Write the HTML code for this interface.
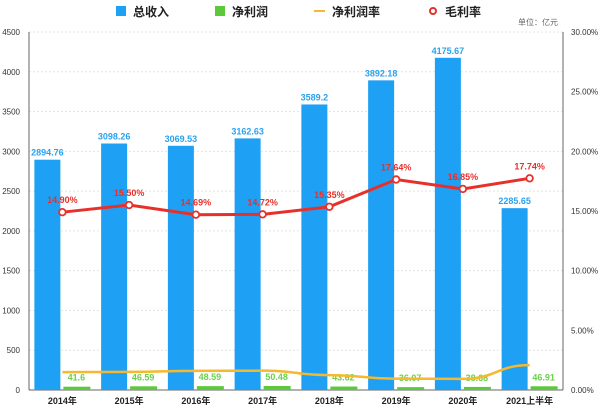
<!DOCTYPE html>
<html><head><meta charset="utf-8"><style>
body{margin:0;background:#fff;width:600px;height:409px;overflow:hidden}
svg{font-family:"Liberation Sans","Noto Sans CJK SC",sans-serif}
</style></head><body>
<svg id="c" width="600" height="409"></svg>
<script>
const categories=["2014年","2015年","2016年","2017年","2018年","2019年","2020年","2021上半年"];
const revenue=[2894.76,3098.26,3069.53,3162.63,3589.2,3892.18,4175.67,2285.65];
const netProfit=[41.6,46.59,48.59,50.48,43.62,36.07,38.68,46.91];
const netRate=[1.50,1.52,1.60,1.62,1.25,0.95,0.93,2.08];
const grossRate=[14.90,15.50,14.69,14.72,15.35,17.64,16.85,17.74];
const leftTicks=[0,500,1000,1500,2000,2500,3000,3500,4000,4500];
const rightTicks=[0,5,10,15,20,25,30];
const NS="http://www.w3.org/2000/svg";
const svg=document.getElementById('c');
const X0=29,X1=563,Y0=390,Y1=32;
const bw=(X1-X0)/categories.length;
const xc=i=>X0+bw*(i+0.5);
const yL=v=>Y0-(v/4500)*(Y0-Y1);
const yR=v=>Y0-(v/30)*(Y0-Y1);
function el(t,a,txt){const e=document.createElementNS(NS,t);for(const k in a)e.setAttribute(k,a[k]);if(txt!==undefined)e.textContent=txt;svg.appendChild(e);return e;}
leftTicks.forEach(v=>{
 if(v>0){const g=el('line',{x1:X0,x2:X1,y1:yL(v),y2:yL(v),stroke:'#e4e4e4','stroke-dasharray':'2,2'});
 
 }
 const t=el('text',{x:20,y:yL(v)+3,'font-size':8,fill:'#333','text-anchor':'end'},v);
 
 
});
rightTicks.forEach(v=>{
 const t=el('text',{x:571,y:yR(v)+3,'font-size':8,fill:'#333'},v.toFixed(2)+'%');
 
 
});
let a=el('line',{x1:X0,x2:X0,y1:Y1,y2:Y0,stroke:'#666'});
a=el('line',{x1:X1,x2:X1,y1:Y1,y2:Y0,stroke:'#666'});
a=el('line',{x1:X0,x2:X1,y1:Y0,y2:Y0,stroke:'#666'});
categories.forEach((c,i)=>{
 const x=xc(i);
 const b=el('rect',{x:x-28,y:yL(revenue[i]),width:26,height:Y0-yL(revenue[i]),fill:'#1ea0f5'});
 
 
 const t=el('text',{x:x-15,y:yL(revenue[i])-4,'font-size':9,'font-weight':'bold',fill:'#2aa2f0','text-anchor':'middle'},revenue[i]);
 
 
 const g=el('rect',{x:x+1,y:yL(netProfit[i]),width:27,height:Y0-yL(netProfit[i]),fill:'#5cc93c'});
 
 
 const gt=el('text',{x:x+14,y:yL(netProfit[i])-6,'font-size':9,'font-weight':'bold',fill:'#6ad14a','text-anchor':'middle'},netProfit[i]);
 
 
 const xt=el('text',{x:x,y:404,'font-size':9,'font-weight':'bold',fill:'#222','text-anchor':'middle'},c);
 
 
});
function smooth(pts){let d='M'+pts[0][0]+','+pts[0][1];for(let i=1;i<pts.length;i++){const p=pts[i-1],q=pts[i],m=(q[0]-p[0])/2;d+=` C${p[0]+m},${p[1]} ${q[0]-m},${q[1]} ${q[0]},${q[1]}`;}return d;}
const np=el('path',{d:smooth(netRate.map((v,i)=>[xc(i),yR(v)])),fill:'none',stroke:'#f5b82e','stroke-width':2.5});


const gp=el('path',{d:'M'+grossRate.map((v,i)=>xc(i)+','+yR(v)).join(' L'),fill:'none',stroke:'#e8302a','stroke-width':3});


grossRate.forEach((v,i)=>{
 const p=el('circle',{cx:xc(i),cy:yR(v),r:3.3,fill:'#fff',stroke:'#e8302a','stroke-width':1.8});
 
 
 const t=el('text',{x:xc(i),y:yR(v)-9,'font-size':9,'font-weight':'bold',fill:'#e8302a','text-anchor':'middle'},v.toFixed(2)+'%');
 
 
});
// legend
const lg=[[116,'#1ea0f5','总收入','rect'],[215,'#5cc93c','净利润','rect'],[315,'#f5b82e','净利润率','line'],[428,'#e8302a','毛利率','circle']];
lg.forEach(([x,col,txt,k])=>{
 let m;
 if(k==='rect')m=el('rect',{x:x,y:6,width:10,height:10,fill:col});
 else if(k==='line')m=el('line',{x1:x-1,x2:x+10,y1:11,y2:11,stroke:col,'stroke-width':2});
 else m=el('circle',{cx:x+5,cy:11,r:3,fill:'#fff',stroke:col,'stroke-width':2});
 
 
 const t=el('text',{x:x+17,y:16,'font-size':12,'font-weight':'bold',fill:'#222'},txt);
 
 
});
const u=el('text',{x:558,y:25,'font-size':8,fill:'#666','text-anchor':'end'},'单位：亿元');


</script>
</body></html>
